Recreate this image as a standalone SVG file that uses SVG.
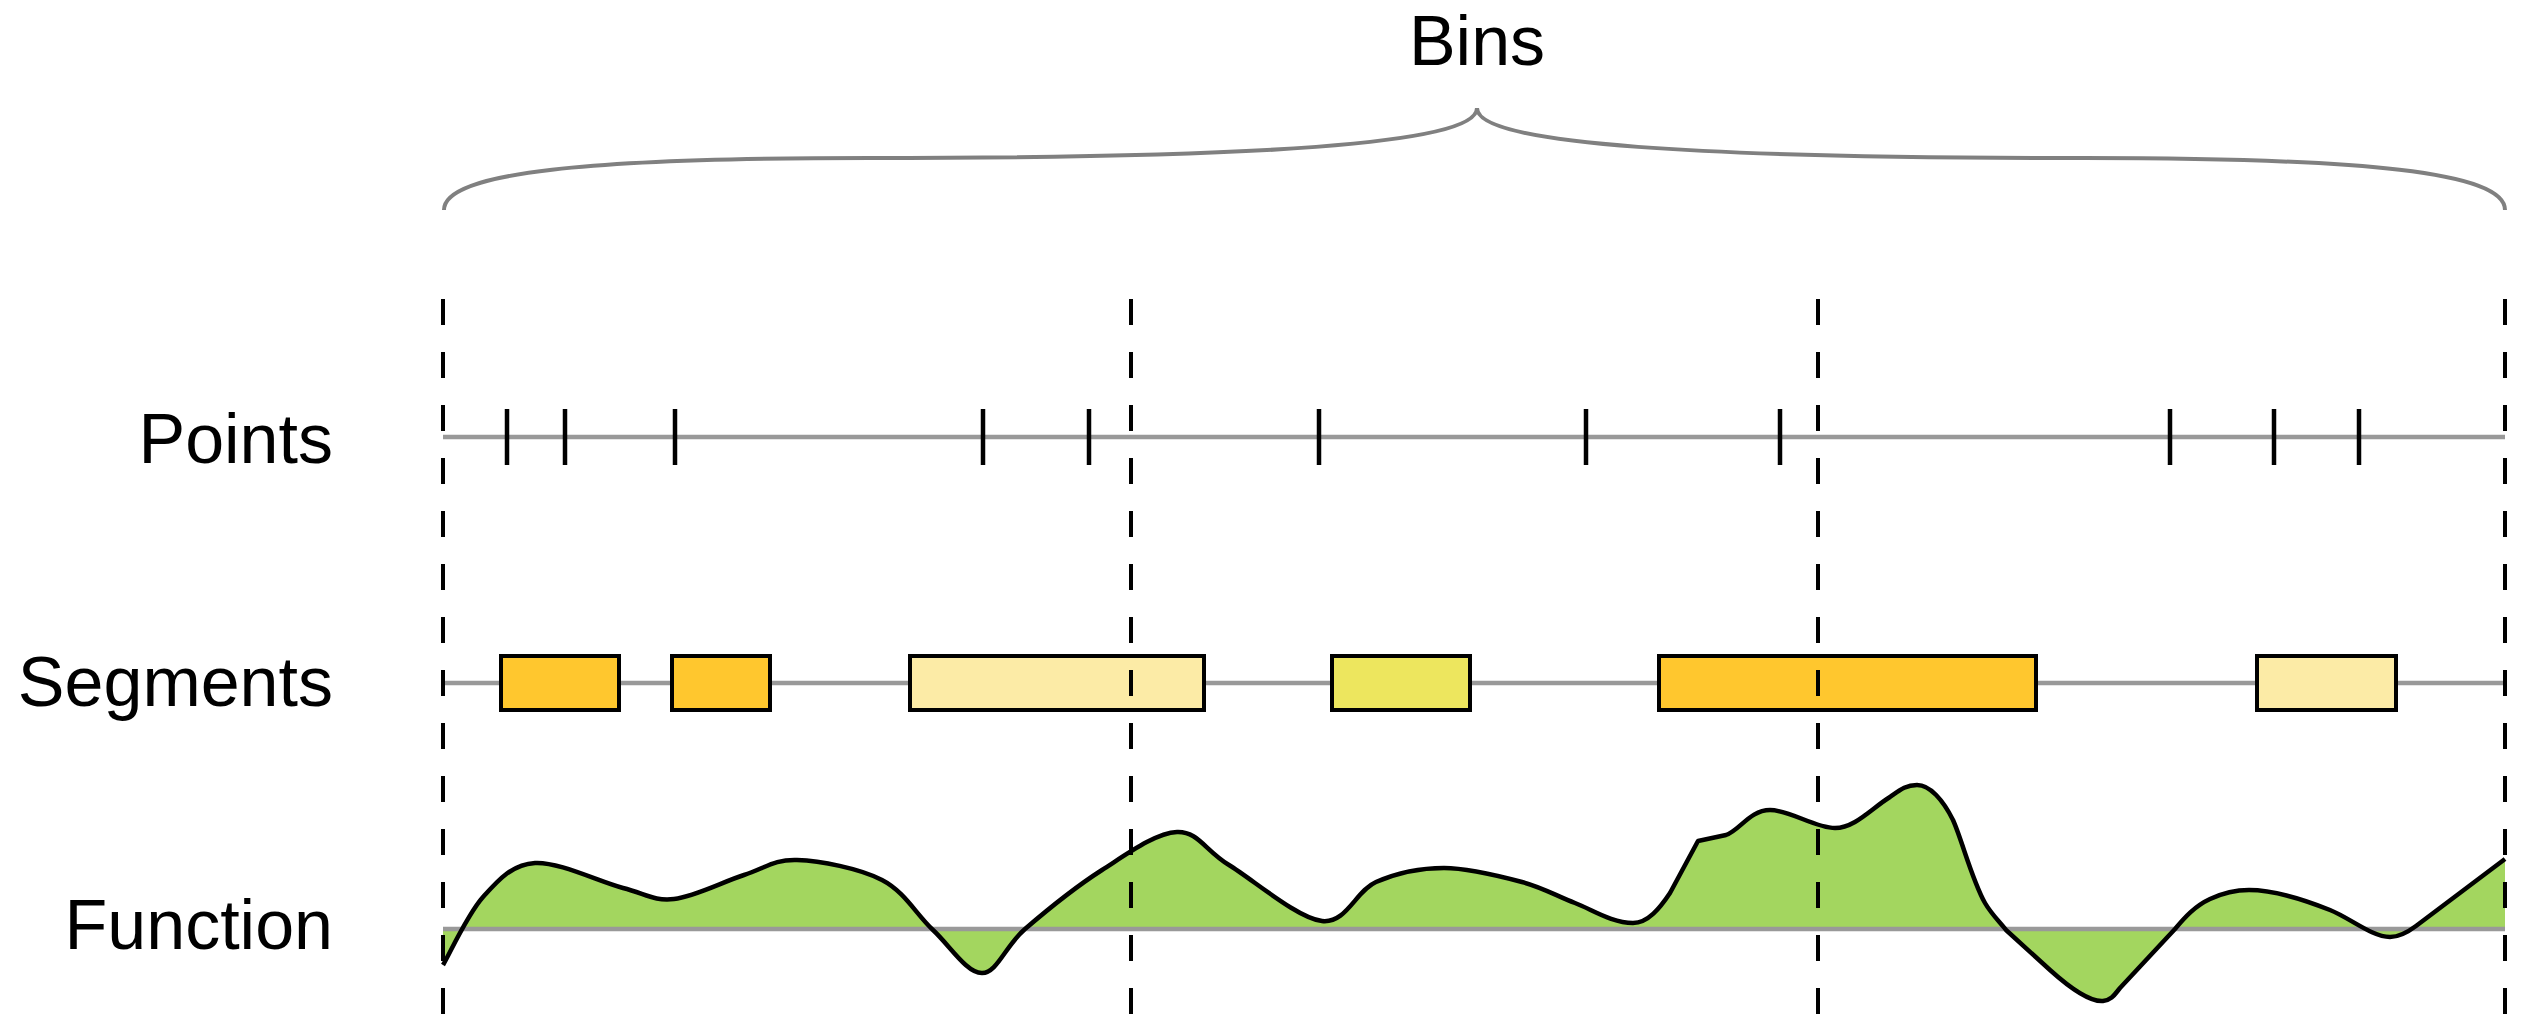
<svg xmlns="http://www.w3.org/2000/svg" width="2525" height="1015" viewBox="0 0 2525 1015">
<style>
.lbl{font-family:"Liberation Sans",Arial,Helvetica,sans-serif;font-size:70px;fill:#000}
.axis{stroke:#999;stroke-width:4.5;fill:none}
.tick{stroke:#000;stroke-width:4.5}
.seg{stroke:#000;stroke-width:4}
.orange{fill:#FFC72E}
.pale{fill:#FCEBA6}
.lime{fill:#EDE65E}
.bin{stroke:#000;stroke-width:4;stroke-dasharray:26 27;fill:none}
</style>
<defs>
<path id="fn" d="M 443 965 C 449.7 953.7, 467.7 914, 483 897 C 498.3 880, 511.7 864.5, 535 863 C 558.3 861.5, 599.8 882, 623 888 C 646.2 894, 653.8 901.2, 674 899 C 694.2 896.8, 723.5 881.5, 744 875 C 764.5 868.5, 774 859.2, 797 860 C 820 860.8, 859.3 868.3, 882 880 C 904.7 891.7, 916.3 914.5, 933 930 C 949.7 945.5, 966.7 973.2, 982 973 C 997.3 972.8, 1005 946.2, 1025 929 C 1045 911.8, 1076.7 886.2, 1102 870 C 1127.3 853.8, 1155.8 832.8, 1177 832 C 1198.2 831.2, 1204.8 850.2, 1229 865 C 1253.2 879.8, 1297.5 918.2, 1322 921 C 1346.5 923.8, 1355.7 890.8, 1376 882 C 1396.3 873.2, 1419.7 868, 1444 868 C 1468.3 868, 1500.2 876.2, 1522 882 C 1543.8 887.8, 1556.8 896.2, 1575 903 C 1593 910, 1612 923, 1633 923 C 1648 923, 1660 908, 1670 893 L 1698 841 L 1726 835 C 1740 830, 1750 810, 1770 810 C 1790 810, 1815 828, 1835 828 C 1855 828, 1872 808, 1890 797 C 1900 790, 1906 785, 1917 785 C 1930 785, 1943 800, 1953 820 C 1962 840, 1972 880, 1985 903 C 1992 915, 2000 922, 2006 930 L 2050 970 C 2070 988, 2090 1002, 2103 1001 C 2112 1000, 2115 994, 2120 988 L 2175 929 C 2185 917, 2195 906, 2210 899 C 2225 892, 2238 890, 2249 890 C 2275 890, 2305 900, 2330 910 C 2350 918, 2372 937, 2390 937 C 2400 937, 2408 932, 2416 926 L 2505 859"/>
</defs>
<rect width="2525" height="1015" fill="#fff"/>
<g id="bins-label">
<text class="lbl" x="1477" y="65" text-anchor="middle">Bins</text>
<path d="M 444 210 C 444 172 590 158 870 158 C 1250 158 1477 145 1477 108 C 1477 145 1704 158 2084 158 C 2364 158 2505 172 2505 210" fill="none" stroke="#808080" stroke-width="4"/>
</g>
<g id="points">
<text class="lbl" x="333" y="463" text-anchor="end">Points</text>
<line class="axis" x1="443" y1="437" x2="2505" y2="437"/>
<g class="tick">
<line x1="507" y1="409" x2="507" y2="465"/>
<line x1="565" y1="409" x2="565" y2="465"/>
<line x1="675" y1="409" x2="675" y2="465"/>
<line x1="983" y1="409" x2="983" y2="465"/>
<line x1="1089" y1="409" x2="1089" y2="465"/>
<line x1="1319" y1="409" x2="1319" y2="465"/>
<line x1="1586" y1="409" x2="1586" y2="465"/>
<line x1="1780" y1="409" x2="1780" y2="465"/>
<line x1="2170" y1="409" x2="2170" y2="465"/>
<line x1="2274" y1="409" x2="2274" y2="465"/>
<line x1="2359" y1="409" x2="2359" y2="465"/>
</g>
</g>
<g id="segments">
<text class="lbl" x="333" y="706" text-anchor="end">Segments</text>
<line class="axis" x1="443" y1="683" x2="2505" y2="683"/>
<rect class="seg orange" x="501" y="656" width="118" height="54"/>
<rect class="seg orange" x="672" y="656" width="98" height="54"/>
<rect class="seg pale" x="910" y="656" width="294" height="54"/>
<rect class="seg lime" x="1332" y="656" width="138" height="54"/>
<rect class="seg orange" x="1659" y="656" width="377" height="54"/>
<rect class="seg pale" x="2257" y="656" width="139" height="54"/>
</g>
<g id="function">
<text class="lbl" x="333" y="949" text-anchor="end">Function</text>
<path fill="#A3D65F" stroke="none" d="M 443 965 C 449.7 953.7, 467.7 914, 483 897 C 498.3 880, 511.7 864.5, 535 863 C 558.3 861.5, 599.8 882, 623 888 C 646.2 894, 653.8 901.2, 674 899 C 694.2 896.8, 723.5 881.5, 744 875 C 764.5 868.5, 774 859.2, 797 860 C 820 860.8, 859.3 868.3, 882 880 C 904.7 891.7, 916.3 914.5, 933 930 C 949.7 945.5, 966.7 973.2, 982 973 C 997.3 972.8, 1005 946.2, 1025 929 C 1045 911.8, 1076.7 886.2, 1102 870 C 1127.3 853.8, 1155.8 832.8, 1177 832 C 1198.2 831.2, 1204.8 850.2, 1229 865 C 1253.2 879.8, 1297.5 918.2, 1322 921 C 1346.5 923.8, 1355.7 890.8, 1376 882 C 1396.3 873.2, 1419.7 868, 1444 868 C 1468.3 868, 1500.2 876.2, 1522 882 C 1543.8 887.8, 1556.8 896.2, 1575 903 C 1593 910, 1612 923, 1633 923 C 1648 923, 1660 908, 1670 893 L 1698 841 L 1726 835 C 1740 830, 1750 810, 1770 810 C 1790 810, 1815 828, 1835 828 C 1855 828, 1872 808, 1890 797 C 1900 790, 1906 785, 1917 785 C 1930 785, 1943 800, 1953 820 C 1962 840, 1972 880, 1985 903 C 1992 915, 2000 922, 2006 930 L 2050 970 C 2070 988, 2090 1002, 2103 1001 C 2112 1000, 2115 994, 2120 988 L 2175 929 C 2185 917, 2195 906, 2210 899 C 2225 892, 2238 890, 2249 890 C 2275 890, 2305 900, 2330 910 C 2350 918, 2372 937, 2390 937 C 2400 937, 2408 932, 2416 926 L 2505 859 L 2505 929 L 443 929 Z"/>
<line class="axis" x1="443" y1="929" x2="2505" y2="929"/>
<use href="#fn" fill="none" stroke="#000" stroke-width="4.5" stroke-linejoin="round"/>
</g>
<g id="connectors">
<line class="bin" x1="443" y1="299" x2="443" y2="1015"/>
<line class="bin" x1="1131" y1="299" x2="1131" y2="1015"/>
<line class="bin" x1="1818" y1="299" x2="1818" y2="1015"/>
<line class="bin" x1="2505" y1="299" x2="2505" y2="1015"/>
</g>
</svg>
